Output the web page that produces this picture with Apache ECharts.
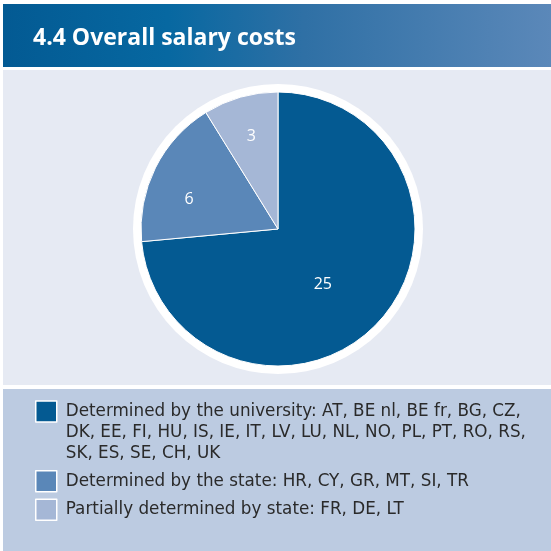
<!DOCTYPE html>
<html>
<head>
<meta charset="utf-8">
<script src="https://cdn.jsdelivr.net/npm/echarts@6/dist/echarts.min.js"></script>
<style>
  html, body { margin: 0; padding: 0; background: #fff; }
  #main { width: 551px; height: 551px; }
</style>
</head>
<body>
<div id="main"></div>
<script>
// chart data
var titleText = '4.4 Overall salary costs';
var categories = ['Determined by the university', 'Determined by the state', 'Partially determined by state'];
var counts = [25, 6, 3];
var countries = [
  ['AT', 'BE nl', 'BE fr', 'BG', 'CZ', 'DK', 'EE', 'FI', 'HU', 'IS', 'IE', 'IT', 'LV', 'LU', 'NL', 'NO', 'PL', 'PT', 'RO', 'RS', 'SK', 'ES', 'SE', 'CH', 'UK'],
  ['HR', 'CY', 'GR', 'MT', 'SI', 'TR'],
  ['FR', 'DE', 'LT']
];
var colors = ['#045a92', '#5a87b8', '#a5b7d6'];

var titleFont = '"Open Sans", "Noto Sans", sans-serif';
var legendFont = '"DejaVu Sans", sans-serif';
var legendSize = 16.8;
var legendLine = 21;
var wrapWidth = 475;
var pieCenter = [278, 229];
var pieRadius = 137;
// nudges (px) of the slice labels away from the default inside spot
var labelNudge = [[-8, 7], [-25, 2], [-7, -24]];

var chart = echarts.init(document.getElementById('main'), null, { renderer: 'canvas' });

// wrap legend text at ", " boundaries
var ctx = document.createElement('canvas').getContext('2d');
ctx.font = legendSize + 'px ' + legendFont;
function wrapEntry(label, list) {
  var lines = [];
  var cur = label + ':';
  list.forEach(function (code, i) {
    var piece = code + (i < list.length - 1 ? ',' : '');
    var attempt = cur + ' ' + piece;
    if (ctx.measureText(attempt).width > wrapWidth) {
      lines.push(cur);
      cur = piece;
    } else {
      cur = attempt;
    }
  });
  lines.push(cur);
  return lines;
}

var legendText = {};
categories.forEach(function (c, i) {
  var lines = wrapEntry(c, countries[i]);
  // legend text is centred on the square: pad empty lines on top so line 1 sits beside it
  var pad = [];
  for (var k = 1; k < lines.length; k++) pad.push('');
  legendText[c] = pad.concat(lines).join('\n');
});

var pieData = categories.map(function (c, i) {
  return { name: c, value: counts[i], itemStyle: { color: colors[i] } };
});

chart.setOption({
  animation: false,
  backgroundColor: '#ffffff',
  title: {
    text: titleText,
    left: 28,
    top: 22,
    textStyle: { color: '#ffffff', fontSize: 23, fontWeight: 'bold', fontFamily: titleFont }
  },
  graphic: [
    {
      type: 'rect', z: -10, silent: true,
      shape: { x: 3, y: 4, width: 548, height: 63 },
      style: {
        fill: new echarts.graphic.LinearGradient(0, 0, 1, 0, [
          { offset: 0, color: '#035a93' },
          { offset: 0.3, color: '#0768a1' },
          { offset: 0.55, color: '#2f70a5' },
          { offset: 1, color: '#5b88b9' }
        ])
      }
    },
    {
      type: 'rect', z: -10, silent: true,
      shape: { x: 3, y: 70, width: 548, height: 315 },
      style: { fill: '#e6eaf3' }
    },
    {
      type: 'rect', z: -10, silent: true,
      shape: { x: 3, y: 389, width: 548, height: 162 },
      style: { fill: '#bccbe1' }
    }
  ],
  legend: {
    orient: 'vertical',
    left: 30,
    top: 354,
    itemWidth: 21,
    itemHeight: 21,
    itemGap: 6,
    selectedMode: false,
    icon: 'rect',
    itemStyle: { borderColor: '#ffffff', borderWidth: 1.5 },
    formatter: function (name) { return legendText[name]; },
    textStyle: {
      color: '#2a2a2a', fontSize: legendSize, fontFamily: legendFont,
      lineHeight: legendLine, padding: [0, 0, 0, 4]
    },
    data: categories
  },
  series: [
    {
      // white ring behind the pie
      type: 'pie',
      silent: true,
      center: pieCenter,
      radius: 145,
      z: 1,
      label: { show: false },
      labelLine: { show: false },
      itemStyle: { color: '#ffffff' },
      data: [{ name: 'ring', value: 1 }]
    },
    {
      type: 'pie',
      center: pieCenter,
      radius: pieRadius,
      startAngle: 90,
      clockwise: true,
      z: 2,
      label: {
        show: true,
        position: 'inside',
        color: '#ffffff',
        fontSize: 16,
        fontFamily: titleFont,
        formatter: '{c}'
      },
      labelLayout: function (p) {
        var n = labelNudge[p.dataIndex];
        return { dx: n[0], dy: n[1] };
      },
      labelLine: { show: false },
      itemStyle: { borderColor: '#ffffff', borderWidth: 1 },
      data: pieData
    }
  ]
});
</script>
</body>
</html>
